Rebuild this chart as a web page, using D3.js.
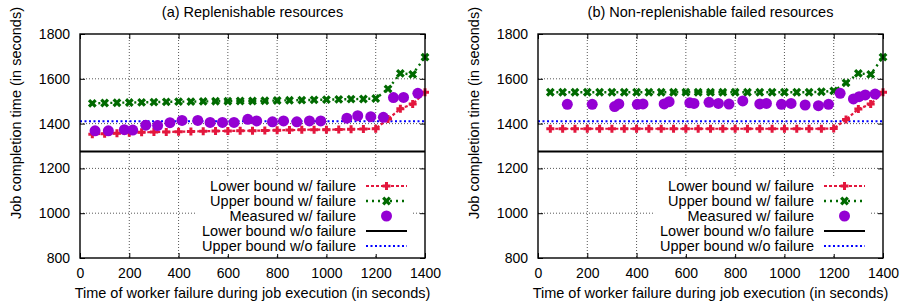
<!DOCTYPE html>
<html>
<head>
<meta charset="utf-8">
<script src="https://cdn.jsdelivr.net/npm/d3@7"></script>
<style>
  html, body { margin: 0; padding: 0; background: #fff; }
  svg { display: block; font-family: "Liberation Sans", Arial, Helvetica, sans-serif; }
</style>
</head>
<body>
<svg id="chart" width="909" height="307"></svg>
<script>
// failure times (s) for the bound series
const failTimes = [50, 100, 150, 200, 250, 300, 350, 400, 450, 500, 550, 600, 650, 700,
    750, 800, 850, 900, 950, 1000, 1050, 1100, 1150, 1200, 1250, 1300, 1350, 1400];

// (a) Replenishable resources
const lowerA = [1352, 1355, 1357, 1359, 1361, 1362, 1363, 1364, 1365, 1366, 1367, 1367, 1368, 1368,
    1369, 1370, 1371, 1372, 1373, 1373, 1374, 1375, 1376, 1377, 1420, 1466, 1487, 1540];
const upperA = [1490, 1492, 1493, 1494, 1495, 1496, 1497, 1498, 1498, 1499, 1500, 1500, 1501, 1501,
    1502, 1503, 1504, 1505, 1506, 1507, 1508, 1509, 1510, 1512, 1555, 1624, 1620, 1697];
const measTimesA = [61, 115, 180, 214, 267, 315, 365, 414, 478, 528, 578, 625, 681, 717, 781, 826,
    880, 931, 977, 1083, 1127, 1180, 1231, 1272, 1313, 1371];
const measValsA = [1368, 1368, 1373, 1371, 1393, 1391, 1404, 1414, 1414, 1405, 1405, 1405, 1419, 1412,
    1408, 1412, 1408, 1412, 1412, 1424, 1435, 1431, 1428, 1516, 1517, 1535];

// (b) Non-replenishable failed resources
const lowerB = [1377, 1377, 1377, 1377, 1377, 1377, 1377, 1377, 1377, 1377, 1377, 1377, 1377, 1377,
    1377, 1377, 1377, 1377, 1377, 1377, 1377, 1377, 1377, 1378, 1418, 1465, 1487, 1540];
const upperB = [1540, 1540, 1540, 1540, 1540, 1540, 1540, 1540, 1540, 1540, 1540, 1540, 1540, 1540,
    1540, 1540, 1540, 1540, 1540, 1540, 1540, 1540, 1542, 1546, 1582, 1624, 1620, 1697];
const measTimesB = [119, 220, 311, 328, 403, 426, 512, 532, 616, 633, 694, 732, 775, 831, 900, 927,
    988, 1027, 1084, 1138, 1179, 1226, 1280, 1303, 1328, 1368];
const measValsB = [1486, 1486, 1476, 1488, 1486, 1488, 1488, 1498, 1493, 1490, 1495, 1490, 1487, 1501,
    1488, 1490, 1486, 1490, 1483, 1480, 1486, 1535, 1510, 1520, 1528, 1532];

// bounds without failure (constant)
const lowerNoFail = 1275;
const upperNoFail = 1410;

const xTicks = [0, 200, 400, 600, 800, 1000, 1200, 1400];
const yTicks = [800, 1000, 1200, 1400, 1600, 1800];
const titles = ["(a) Replenishable resources", "(b) Non-replenishable failed resources"];
const legendLabels = ["Lower bound w/ failure", "Upper bound w/ failure", "Measured w/ failure",
    "Lower bound w/o failure", "Upper bound w/o failure"];

const colors = { lower: "#e3173d", upper: "#006a00", meas: "#9400d3", noFailLow: "#000", noFailUp: "#0000ff" };

const svg = d3.select("#chart");
const plotW = 345, plotTop = 34, plotBottom = 258;

const panels = [
    { left: 80, title: titles[0], lower: lowerA, upper: upperA, mt: measTimesA, mv: measValsA },
    { left: 538, title: titles[1], lower: lowerB, upper: upperB, mt: measTimesB, mv: measValsB }
];

function plusPath(s) { return `M${-s},0H${s}M0,${-s}V${s}`; }
function crossPath(s) { return `M${-s},${-s}L${s},${s}M${-s},${s}L${s},${-s}`; }

panels.forEach(p => {
    const x = d3.scaleLinear().domain([0, 1400]).range([p.left, p.left + plotW]);
    const y = d3.scaleLinear().domain([800, 1800]).range([plotBottom, plotTop]);
    const g = svg.append("g");

    // grid
    g.append("g").selectAll("line")
        .data(xTicks.slice(1, -1)).join("line")
        .attr("x1", d => x(d)).attr("x2", d => x(d))
        .attr("y1", plotTop).attr("y2", plotBottom)
        .attr("stroke", "#444").attr("stroke-width", 0.9).attr("stroke-dasharray", "1,2");
    g.append("g").selectAll("line")
        .data(yTicks.slice(1, -1)).join("line")
        .attr("x1", p.left).attr("x2", p.left + plotW)
        .attr("y1", d => y(d)).attr("y2", d => y(d))
        .attr("stroke", "#444").attr("stroke-width", 0.9).attr("stroke-dasharray", "1,2");

    // axes, gnuplot-style inward ticks mirrored on all sides
    const ax = (axis, tr) => {
        const a = g.append("g").attr("transform", tr).call(axis);
        a.select(".domain").remove();
        a.selectAll("line").attr("stroke", "#000");
        a.selectAll("text").attr("fill", "#000").style("font-size", "14px");
        return a;
    };
    const fmt = d3.format("d");
    ax(d3.axisBottom(x).tickValues(xTicks).tickFormat(fmt).tickSize(-5).tickPadding(10), `translate(0,${plotBottom})`);
    ax(d3.axisTop(x).tickValues(xTicks).tickSize(-5).tickFormat(""), `translate(0,${plotTop})`);
    ax(d3.axisLeft(y).tickValues(yTicks).tickFormat(fmt).tickSize(-5).tickPadding(10), `translate(${p.left},0)`);
    ax(d3.axisRight(y).tickValues(yTicks).tickSize(-5).tickFormat(""), `translate(${p.left + plotW},0)`);

    // bounds without failure
    g.append("line")
        .attr("x1", x(0)).attr("x2", x(1400))
        .attr("y1", y(lowerNoFail)).attr("y2", y(lowerNoFail))
        .attr("stroke", colors.noFailLow).attr("stroke-width", 2);
    g.append("line")
        .attr("x1", x(0)).attr("x2", x(1400))
        .attr("y1", y(upperNoFail)).attr("y2", y(upperNoFail))
        .attr("stroke", colors.noFailUp).attr("stroke-width", 2).attr("stroke-dasharray", "2,2.5");

    const line = d3.line().x((d, i) => x(failTimes[i])).y(d => y(d));

    // lower bound w/ failure
    g.append("path").datum(p.lower).attr("d", line)
        .attr("fill", "none").attr("stroke", colors.lower).attr("stroke-width", 2.2)
        .attr("stroke-dasharray", "3,2");
    g.append("g").selectAll("path").data(p.lower).join("path")
        .attr("transform", (d, i) => `translate(${x(failTimes[i])},${y(d)})`)
        .attr("d", plusPath(4)).attr("stroke", colors.lower).attr("stroke-width", 3);

    // upper bound w/ failure
    g.append("path").datum(p.upper).attr("d", line)
        .attr("fill", "none").attr("stroke", colors.upper).attr("stroke-width", 2.4)
        .attr("stroke-dasharray", "2,4");
    g.append("g").selectAll("path").data(p.upper).join("path")
        .attr("transform", (d, i) => `translate(${x(failTimes[i])},${y(d)})`)
        .attr("d", crossPath(3.3)).attr("stroke", colors.upper).attr("stroke-width", 3.2);

    // measured
    g.append("g").selectAll("circle").data(p.mv).join("circle")
        .attr("cx", (d, i) => x(p.mt[i])).attr("cy", d => y(d))
        .attr("r", 5.5).attr("fill", colors.meas);

    // border
    g.append("rect")
        .attr("x", p.left).attr("y", plotTop).attr("width", plotW).attr("height", plotBottom - plotTop)
        .attr("fill", "none").attr("stroke", "#000").attr("stroke-width", 1.4);

    // title
    g.append("text")
        .attr("x", p.left + plotW / 2).attr("y", 17)
        .attr("text-anchor", "middle").style("font-size", "14.5px")
        .text(p.title);

    // axis labels
    g.append("text")
        .attr("x", p.left + plotW / 2).attr("y", 298)
        .attr("text-anchor", "middle").style("font-size", "14.5px")
        .text("Time of worker failure during job execution (in seconds)");
    g.append("text")
        .attr("transform", `translate(${p.left - 59},113) rotate(-90)`)
        .attr("text-anchor", "middle").style("font-size", "14.5px")
        .text("Job completion time (in seconds)");

    // legend
    const textRight = p.left + 276;
    const rowY = [186, 201, 216, 231, 246];
    const lg = g.append("g");
    const bg = lg.append("rect").attr("fill", "#fff");
    const labels = lg.selectAll("text").data(legendLabels).join("text")
        .attr("x", textRight).attr("y", (d, i) => rowY[i] + 5)
        .attr("text-anchor", "end").style("font-size", "14.5px")
        .text(d => d);
    let maxW = 0;
    labels.each(function () { maxW = Math.max(maxW, this.getComputedTextLength()); });
    bg.attr("x", textRight - maxW - 5).attr("y", rowY[0] - 9)
        .attr("width", maxW + 5 + 56).attr("height", rowY[4] - rowY[0] + 17);

    const sx0 = textRight + 10, sx1 = textRight + 51, sxm = (sx0 + sx1) / 2;
    lg.append("line").attr("x1", sx0).attr("x2", sx1).attr("y1", rowY[0]).attr("y2", rowY[0])
        .attr("stroke", colors.lower).attr("stroke-width", 2.2).attr("stroke-dasharray", "3,2");
    lg.append("path").attr("transform", `translate(${sxm},${rowY[0]})`).attr("d", plusPath(4))
        .attr("stroke", colors.lower).attr("stroke-width", 3);
    lg.append("line").attr("x1", sx0).attr("x2", sx1).attr("y1", rowY[1]).attr("y2", rowY[1])
        .attr("stroke", colors.upper).attr("stroke-width", 2.4).attr("stroke-dasharray", "2,4");
    lg.append("path").attr("transform", `translate(${sxm},${rowY[1]})`).attr("d", crossPath(3.3))
        .attr("stroke", colors.upper).attr("stroke-width", 3.2);
    lg.append("circle").attr("cx", sxm).attr("cy", rowY[2]).attr("r", 5.5).attr("fill", colors.meas);
    lg.append("line").attr("x1", sx0).attr("x2", sx1).attr("y1", rowY[3]).attr("y2", rowY[3])
        .attr("stroke", colors.noFailLow).attr("stroke-width", 2);
    lg.append("line").attr("x1", sx0).attr("x2", sx1).attr("y1", rowY[4]).attr("y2", rowY[4])
        .attr("stroke", colors.noFailUp).attr("stroke-width", 2).attr("stroke-dasharray", "2,2.5");
});
</script>
</body>
</html>
